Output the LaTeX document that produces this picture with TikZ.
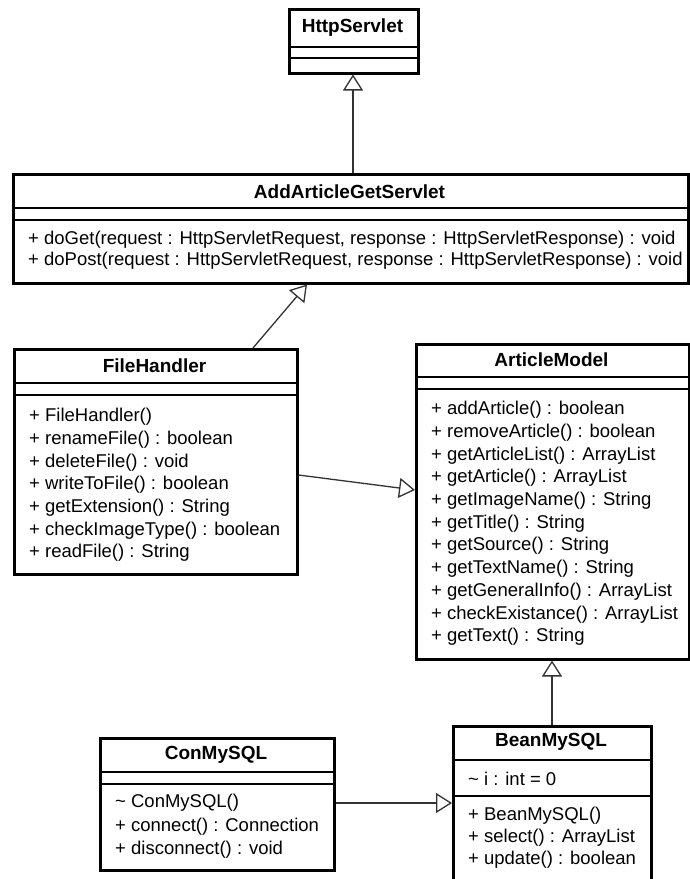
\documentclass[tikz,border=0pt]{standalone}
\usepackage{fontspec}
\setmainfont{Liberation Sans}
\usetikzlibrary{arrows.meta}

\begin{document}
\begin{tikzpicture}[
    x=1pt, y=-1pt,
    font=\fontsize{18.5}{20}\selectfont,
    classbox/.style={
      draw,
      line width=2.5pt,
      anchor=north west,
      inner sep=0pt
    },
    title/.style={
      font=\fontsize{19}{20}\selectfont\bfseries,
      inner sep=0pt
    },
    member/.style={
      anchor=west,
      inner sep=0pt
    },
    divider/.style={
      line width=1.2pt
    },
    inherit/.style={
      -{Triangle[open,length=16pt,width=20pt]},
      line width=1.3pt,
      black!80
    }
  ]
    \useasboundingbox (0,0) rectangle (690,879);

    % HttpServlet
    \node[classbox,minimum width=129pt,minimum height=64pt] (hs) at (288,8) {};
    \node[title] (hs-t) at (352.5,28) {HttpServlet};
    \draw[divider] (hs.west |- 0,47) -- (hs.east |- 0,47);
    \draw[divider] (hs.west |- 0,58) -- (hs.east |- 0,58);

    % AddArticleGetServlet
    \node[classbox,minimum width=675pt,minimum height=109pt] (ags) at (12,173) {};
    \node[title] (ags-t) at (349.5,192) {AddArticleGetServlet};
    \draw[divider] (ags.west |- 0,208) -- (ags.east |- 0,208);
    \draw[divider] (ags.west |- 0,220) -- (ags.east |- 0,220);
    \foreach \m [count=\i] in {
        {+ doGet(request : HttpServletRequest, response : HttpServletResponse) : void},
        {+ doPost(request : HttpServletRequest, response : HttpServletResponse) : void}}
      \node[member] (ags-m\i) at (28,{218+21.5*\i}) {\m};

    % FileHandler
    \node[classbox,minimum width=283pt,minimum height=225pt] (fh) at (13,348) {};
    \node[title] (fh-t) at (154.5,366) {FileHandler};
    \draw[divider] (fh.west |- 0,383) -- (fh.east |- 0,383);
    \draw[divider] (fh.west |- 0,395) -- (fh.east |- 0,395);
    \foreach \m [count=\i] in {
        + FileHandler(), + renameFile() : boolean, + deleteFile() : void,
        + writeToFile() : boolean, + getExtension() : String,
        + checkImageType() : boolean, + readFile() : String}
      \node[member] (fh-m\i) at (29,{394.3+22.7*\i}) {\m};

    % ArticleModel
    \node[classbox,minimum width=273pt,minimum height=315pt] (am) at (415,343) {};
    \node[title] (am-t) at (551.5,360) {ArticleModel};
    \draw[divider] (am.west |- 0,377) -- (am.east |- 0,377);
    \draw[divider] (am.west |- 0,389) -- (am.east |- 0,389);
    \foreach \m [count=\i] in {
        + addArticle() : boolean, + removeArticle() : boolean,
        + getArticleList() : ArrayList, + getArticle() : ArrayList,
        + getImageName() : String, + getTitle() : String,
        + getSource() : String, + getTextName() : String,
        + getGeneralInfo() : ArrayList, + checkExistance() : ArrayList,
        + getText() : String}
      \node[member] (am-m\i) at (431,{387.3+22.7*\i}) {\m};

    % ConMySQL
    \node[classbox,minimum width=234pt,minimum height=132pt] (cm) at (99,737) {};
    \node[title] (cm-t) at (216,755) {ConMySQL};
    \draw[divider] (cm.west |- 0,772) -- (cm.east |- 0,772);
    \draw[divider] (cm.west |- 0,784) -- (cm.east |- 0,784);
    \foreach \m [count=\i] in {
        \textasciitilde\ ConMySQL(), + connect() : Connection,
        + disconnect() : void}
      \node[member] (cm-m\i) at (115,{779.5+23.5*\i}) {\m};

    % BeanMySQL
    \node[classbox,minimum width=198pt,minimum height=165pt] (bm) at (452,725) {};
    \node[title] (bm-t) at (551,742) {BeanMySQL};
    \draw[divider] (bm.west |- 0,760) -- (bm.east |- 0,760);
    \draw[divider] (bm.west |- 0,796) -- (bm.east |- 0,796);
    \node[member] (bm-a1) at (468,779) {\textasciitilde\ i : int = 0};
    \foreach \m [count=\i] in {
        + BeanMySQL(), + select() : ArrayList, + update() : boolean}
      \node[member] (bm-m\i) at (468,{794+22*\i}) {\m};

    % generalizations
    \draw[inherit] (353,0 |- ags.north) -- (353,0 |- hs.south);
    \draw[inherit] (253,0 |- fh.north) -- (307,0 |- ags.south);
    \draw[inherit] (fh.east |- 0,475) -- (am.west |- 0,490);
    \draw[inherit] (552,0 |- bm.north) -- (552,0 |- am.south);
    \draw[inherit] (cm.east |- 0,803) -- (bm.west |- 0,803);
  \end{tikzpicture}
\end{document}
